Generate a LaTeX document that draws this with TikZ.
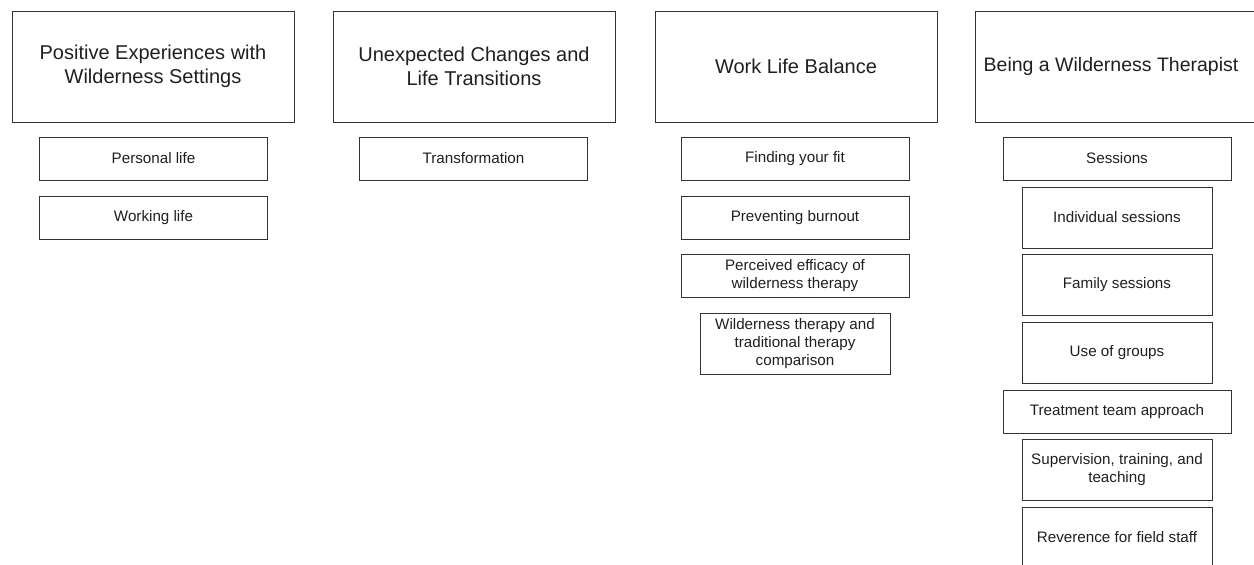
\documentclass[tikz,border=0pt]{standalone}
\usepackage{fontspec}
\setmainfont{Liberation Sans}
\usepackage{tikz}

\begin{document}
\begin{tikzpicture}[x=1pt,y=-1pt,
  theme/.style={draw=black!80,line width=0.9pt,minimum width=282pt,minimum height=111pt,
    inner sep=0pt,align=center,text=black!88,font=\fontsize{20}{24}\selectfont},
  sub/.style={draw=black!80,line width=0.9pt,minimum width=228pt,minimum height=43pt,
    inner sep=0pt,align=center,text=black!88,font=\fontsize{15.2}{18}\selectfont},
  subsub/.style={sub,minimum width=190pt,minimum height=61pt}]

\useasboundingbox (0,0) rectangle (1254,565);

% Positive experiences
\node[theme] (pos) at (153,66.5) {Positive Experiences with\\Wilderness Settings};
\node[sub] (personal) at (153.5,158.5) {Personal life};
\node[sub] (working) at (153.5,218) {Working life};


% Unexpected changes
\node[theme] (change) at (474,66.5) {Unexpected Changes and\\Life Transitions};
\node[sub] (transf) at (473.5,158.5) {Transformation};


% Work life balance
\node[theme] (balance) at (796,66.5) {Work Life Balance};
\node[sub] (fit) at (795,158.5) {Finding your fit};
\node[sub] (burnout) at (795,218) {Preventing burnout};
\node[sub] (efficacy) at (795,275.5) {Perceived efficacy of\\wilderness therapy};
\node[subsub] (compare) at (795,343.5) {Wilderness therapy and\\traditional therapy\\comparison};


% Being a wilderness therapist (box runs off the right edge)
\node[theme,minimum width=290pt] (therapist) at (1120,66.5)
  {\hspace*{-18pt}\fontsize{19.5}{24}\selectfont Being a Wilderness Therapist};
\node[sub] (sessions) at (1117,158.5) {Sessions};
\node[subsub] (indiv) at (1117,217.5) {Individual sessions};
\node[subsub] (family) at (1117,284.5) {Family sessions};
\node[subsub] (groups) at (1117,352.5) {Use of groups};
\node[sub] (team) at (1117,411.5) {Treatment team approach};
\node[subsub] (superv) at (1117,469.5) {Supervision, training, and\\teaching};
\node[subsub] (reverence) at (1117,537.5) {Reverence for field staff};

\end{tikzpicture}
\end{document}
